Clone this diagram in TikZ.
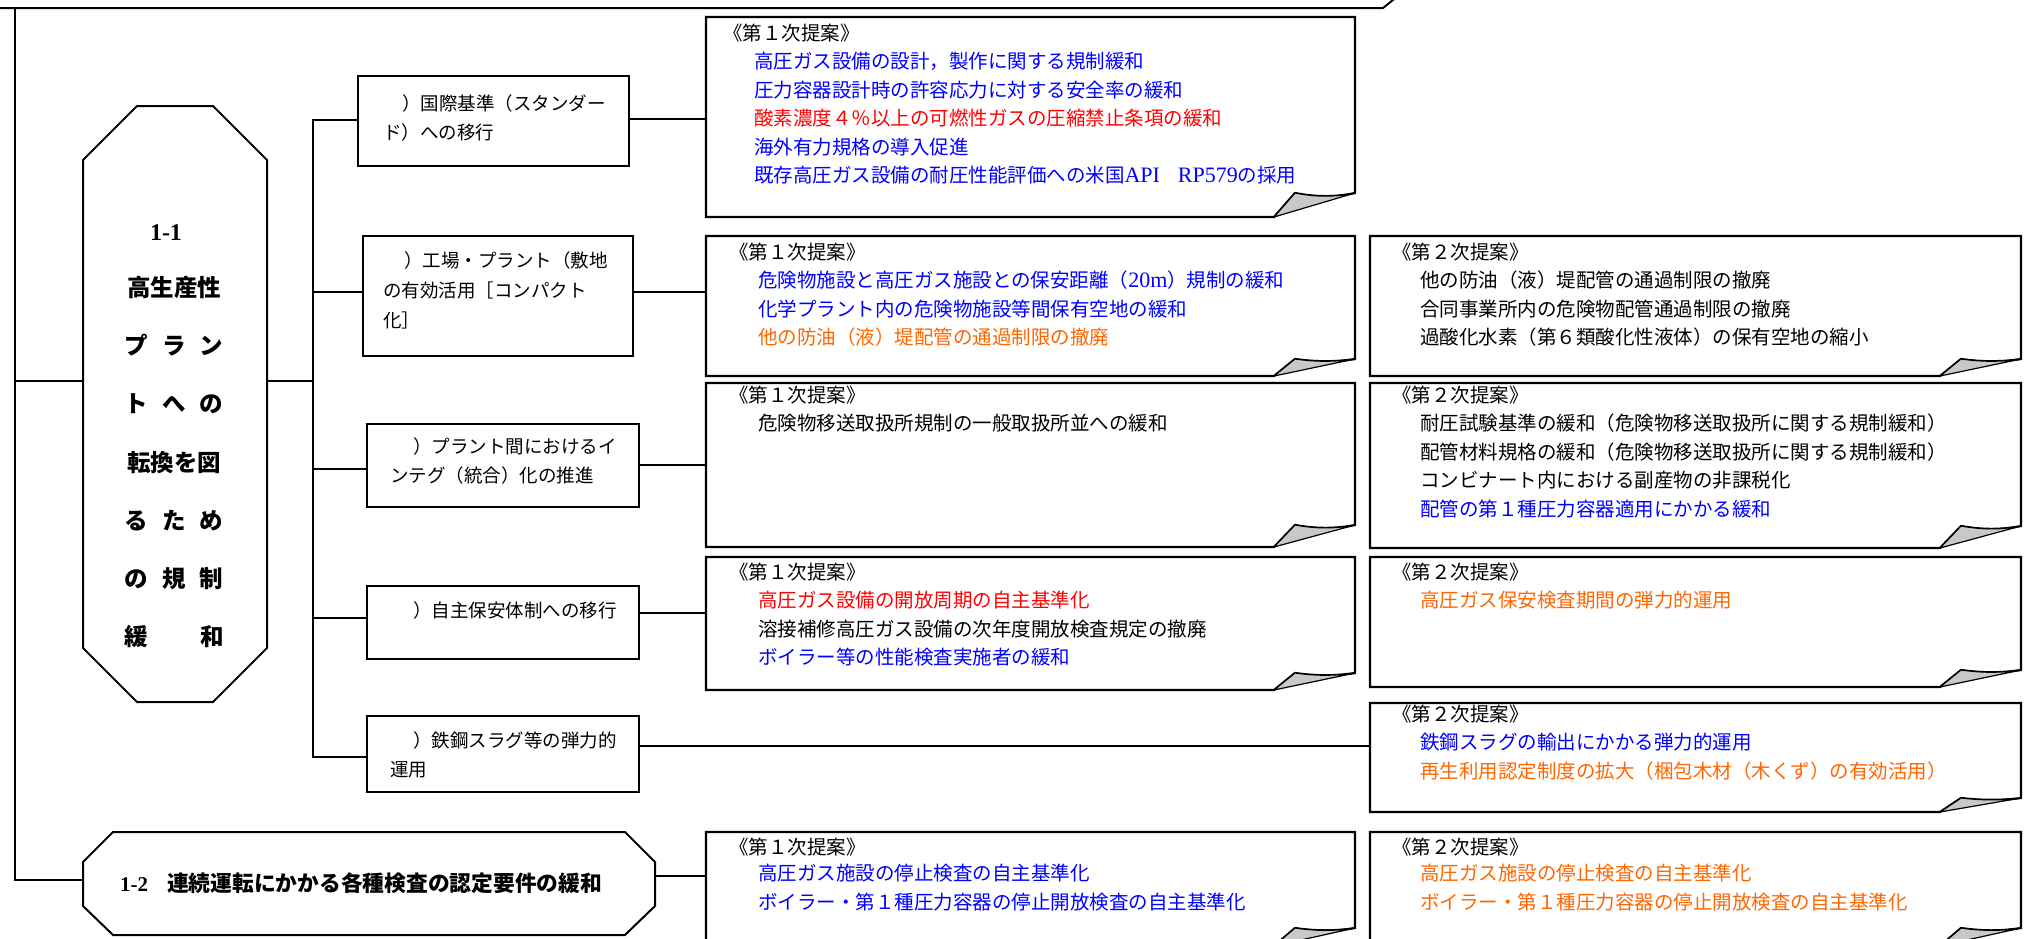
\documentclass[tikz,border=0pt]{standalone}
\usepackage{fontspec}
\setmainfont{Noto Sans CJK JP}
\newfontfamily\serif{Liberation Serif}
\definecolor{jblue}{RGB}{0,0,255}
\definecolor{jred}{RGB}{255,0,0}
\definecolor{jorange}{RGB}{255,102,0}
\definecolor{foldgray}{RGB}{200,200,200}
\tikzset{
  conn/.style={draw=black, line width=2pt, line cap=rect},
  octo/.style={draw=black, line width=2pt, line join=miter},
  area/.style={inner sep=0pt, outer sep=0pt, anchor=north west},
  brbox/.style={draw=black, line width=2.2pt, inner sep=0pt, outer sep=0pt, anchor=north west},
  pagebox/.style={draw=black, line width=2.2pt, fill=white, line join=miter},
  fold/.style={draw=black, line width=1.2pt, fill=foldgray, line join=round},
  ptxt/.style={anchor=base west, inner sep=0pt, outer sep=0pt, font=\fontsize{19.5}{19.5}\selectfont},
  btxt/.style={anchor=base west, inner sep=0pt, outer sep=0pt, font=\fontsize{18.5}{18.5}\selectfont},
  otxt/.style={anchor=base, inner sep=0pt, outer sep=0pt, font=\fontsize{23.5}{23.5}\selectfont\bfseries}
}
\newcommand\propbox[6]{%
  \node[area, minimum width={(#4-#2)*1pt}, minimum height={(#5-#3)*1pt}] (#1) at (#2,#3) {};
  \draw[pagebox] (#2,#3) -- (#4,#3) -- (#4,{#5-#6})
     .. controls ({#4-25},{#5-#6+0.22*#6}) and ({#4-45},{#5-#6+0.12*#6}) .. ({#4-60},{#5-#6})
     -- ({#4-81},#5) -- (#2,#5) -- cycle;
  \draw[fold] ({#4-81},#5) -- ({#4-60},{#5-#6})
     .. controls ({#4-45},{#5-#6+0.12*#6}) and ({#4-25},{#5-#6+0.22*#6}) .. (#4,{#5-#6}) -- cycle;
}
\newcommand\lt[1]{{\serif\fontsize{22}{22}\selectfont #1}}
\begin{document}
\begin{tikzpicture}[x=1pt,y=-1pt]
\useasboundingbox (0,0) rectangle (2032,938);
\fill[white] (0,0) rectangle (2032,938);

% named coordinates
\coordinate (trunkTop) at (15,8);
\coordinate (trunkBot) at (15,880);
\coordinate (busTop) at (313,120);
\coordinate (busBot) at (313,757);
\coordinate (yO) at (0,381);
\coordinate (yAl) at (0,120);
\coordinate (yAr) at (0,119);
\coordinate (yBl) at (0,292);
\coordinate (yBr) at (0,292);
\coordinate (yCl) at (0,469);
\coordinate (yCr) at (0,465);
\coordinate (yDl) at (0,618);
\coordinate (yDr) at (0,613);
\coordinate (yEl) at (0,757);
\coordinate (yEr) at (0,746);
\coordinate (yF) at (0,876);
\coordinate (topA) at (-3,8);
\coordinate (topB) at (1383,8);
\coordinate (topC) at (1398,-4);

% top frame line
\draw[conn] (topA) -- (topB) -- (topC);

% octagon 1-1
\node[area, minimum width=184pt, minimum height=596pt] (O1) at (83,106) {};
\draw[octo] (83,160) -- (137,106) -- (213,106) -- (267,160) -- (267,648) -- (213,702) -- (137,702) -- (83,648) -- cycle;
% octagon 1-2
\node[area, minimum width=572pt, minimum height=103pt] (O2) at (83,832) {};
\draw[octo] (83,862) -- (113,832) -- (625,832) -- (655,862) -- (655,906) -- (625,935) -- (113,935) -- (83,906) -- cycle;

% branch boxes
\node[brbox, minimum width=271pt, minimum height=90pt] (A) at (358,76) {};
\node[brbox, minimum width=270pt, minimum height=120pt] (B) at (363,236) {};
\node[brbox, minimum width=272pt, minimum height=83pt] (C) at (367,424) {};
\node[brbox, minimum width=272pt, minimum height=73pt] (D) at (367,586) {};
\node[brbox, minimum width=272pt, minimum height=76pt] (E) at (367,716) {};

% connectors (left side)
\draw[conn] (trunkTop) -- (trunkBot);
\draw[conn] (trunkTop |- yO) -- (O1.west |- yO);
\draw[conn] (O1.east |- yO) -- (busTop |- yO);
\draw[conn] (busTop) -- (busBot);
\draw[conn] (busTop |- yAl) -- (A.west |- yAl);
\draw[conn] (busTop |- yBl) -- (B.west |- yBl);
\draw[conn] (busTop |- yCl) -- (C.west |- yCl);
\draw[conn] (busTop |- yDl) -- (D.west |- yDl);
\draw[conn] (busTop |- yEl) -- (E.west |- yEl);
\draw[conn] (trunkBot) -- (O2.west |- trunkBot);

% proposal boxes
\propbox{A1}{706}{17}{1355}{217}{24}
\propbox{B1}{706}{236}{1355}{376}{17}
\propbox{B2}{1370}{236}{2021}{376}{17}
\propbox{C1}{706}{383}{1355}{547}{22}
\propbox{C2}{1370}{383}{2021}{548}{22}
\propbox{D1}{706}{557}{1355}{690}{17}
\propbox{D2}{1370}{557}{2021}{687}{17}
\propbox{E2}{1370}{703}{2021}{812}{14}
\propbox{F1}{706}{832}{1355}{946}{18}
\propbox{F2}{1370}{832}{2021}{946}{18}

% connectors (right side)
\draw[conn] (A.east |- yAr) -- (A1.west |- yAr);
\draw[conn] (B.east |- yBr) -- (B1.west |- yBr);
\draw[conn] (C.east |- yCr) -- (C1.west |- yCr);
\draw[conn] (D.east |- yDr) -- (D1.west |- yDr);
\draw[conn] (E.east |- yEr) -- (E2.west |- yEr);
\draw[conn] (O2.east |- yF) -- (F1.west |- yF);

% octagon 1-1 text
\node[otxt, font=\fontsize{24}{24}\selectfont\serif\bfseries] (o1a) at (166,240) {1-1};
\node[otxt] (o1b) at (174,296.5) {高生産性};
\node[otxt] (o1c) at (174,354.7) {プ\hspace{14pt}ラ\hspace{14pt}ン};
\node[otxt] (o1d) at (174,412.8) {ト\hspace{14pt}へ\hspace{14pt}の};
\node[otxt] (o1e) at (174,471) {転換を図};
\node[otxt] (o1f) at (174,529.2) {る\hspace{14pt}た\hspace{14pt}め};
\node[otxt] (o1g) at (174,587.3) {の\hspace{14pt}規\hspace{14pt}制};
\node[otxt] (o1h) at (174,645.5) {緩\hspace{53pt}和};

% octagon 1-2 text
\node[anchor=base west, inner sep=0pt, font=\fontsize{21}{21}\selectfont\serif\bfseries] (o2a) at (120,891) {1-2};
\node[anchor=base west, inner sep=0pt, font=\fontsize{21.75}{21.75}\selectfont\bfseries] (o2b) at (167,891) {連続運転にかかる各種検査の認定要件の緩和};

% branch box texts
\node[btxt] (tA1) at (383,110) {\hspace{19pt}）国際基準（スタンダー};
\node[btxt] (tA2) at (383,139) {ド）への移行};
\node[btxt] (tB1) at (383,267) {\hspace{21pt}）工場・プラント（敷地};
\node[btxt] (tB2) at (383,297) {の有効活用［コンパクト};
\node[btxt] (tB3) at (383,327) {化］};
\node[btxt] (tC1) at (390,453) {\hspace{23pt}）プラント間におけるイ};
\node[btxt] (tC2) at (390,482) {ンテグ（統合）化の推進};
\node[btxt] (tD1) at (390,617) {\hspace{23pt}）自主保安体制への移行};
\node[btxt] (tE1) at (390,747) {\hspace{23pt}）鉄鋼スラグ等の弾力的};
\node[btxt] (tE2) at (390,776) {運用};

% A1
\node[ptxt] (a1h) at (723,40) {《第１次提案》};
\node[ptxt, text=jblue] (a1a) at (754,68.5) {高圧ガス設備の設計，製作に関する規制緩和};
\node[ptxt, text=jblue] (a1b) at (754,97) {圧力容器設計時の許容応力に対する安全率の緩和};
\node[ptxt, text=jred] (a1c) at (754,125.5) {酸素濃度４％以上の可燃性ガスの圧縮禁止条項の緩和};
\node[ptxt, text=jblue] (a1d) at (754,154) {海外有力規格の導入促進};
\node[ptxt, text=jblue] (a1e) at (754,182.5) {既存高圧ガス設備の耐圧性能評価への米国\lt{API}\hspace{18pt}\lt{RP579}の採用};

% B1
\node[ptxt] (b1h) at (729,259) {《第１次提案》};
\node[ptxt, text=jblue] (b1a) at (758,287.5) {危険物施設と高圧ガス施設との保安距離（\lt{20m}）規制の緩和};
\node[ptxt, text=jblue] (b1b) at (758,316) {化学プラント内の危険物施設等間保有空地の緩和};
\node[ptxt, text=jorange] (b1c) at (758,344.5) {他の防油（液）堤配管の通過制限の撤廃};
% B2
\node[ptxt] (b2h) at (1392,259) {《第２次提案》};
\node[ptxt] (b2a) at (1420,287.5) {他の防油（液）堤配管の通過制限の撤廃};
\node[ptxt] (b2b) at (1420,316) {合同事業所内の危険物配管通過制限の撤廃};
\node[ptxt] (b2c) at (1420,344.5) {過酸化水素（第６類酸化性液体）の保有空地の縮小};

% C1
\node[ptxt] (c1h) at (729,402) {《第１次提案》};
\node[ptxt] (c1a) at (758,430.5) {危険物移送取扱所規制の一般取扱所並への緩和};
% C2
\node[ptxt] (c2h) at (1392,402) {《第２次提案》};
\node[ptxt] (c2a) at (1420,430.5) {耐圧試験基準の緩和（危険物移送取扱所に関する規制緩和）};
\node[ptxt] (c2b) at (1420,459) {配管材料規格の緩和（危険物移送取扱所に関する規制緩和）};
\node[ptxt] (c2c) at (1420,487.5) {コンビナート内における副産物の非課税化};
\node[ptxt, text=jblue] (c2d) at (1420,516) {配管の第１種圧力容器適用にかかる緩和};

% D1
\node[ptxt] (d1h) at (729,579) {《第１次提案》};
\node[ptxt, text=jred] (d1a) at (758,607.5) {高圧ガス設備の開放周期の自主基準化};
\node[ptxt] (d1b) at (758,636) {溶接補修高圧ガス設備の次年度開放検査規定の撤廃};
\node[ptxt, text=jblue] (d1c) at (758,664.5) {ボイラー等の性能検査実施者の緩和};
% D2
\node[ptxt] (d2h) at (1392,579) {《第２次提案》};
\node[ptxt, text=jorange] (d2a) at (1420,607.5) {高圧ガス保安検査期間の弾力的運用};

% E2
\node[ptxt] (e2h) at (1392,721) {《第２次提案》};
\node[ptxt, text=jblue] (e2a) at (1420,749.5) {鉄鋼スラグの輸出にかかる弾力的運用};
\node[ptxt, text=jorange] (e2b) at (1420,778) {再生利用認定制度の拡大（梱包木材（木くず）の有効活用）};

% F1
\node[ptxt] (f1h) at (729,854) {《第１次提案》};
\node[ptxt, text=jblue] (f1a) at (758,880.5) {高圧ガス施設の停止検査の自主基準化};
\node[ptxt, text=jblue] (f1b) at (758,909) {ボイラー・第１種圧力容器の停止開放検査の自主基準化};
% F2
\node[ptxt] (f2h) at (1392,854) {《第２次提案》};
\node[ptxt, text=jorange] (f2a) at (1420,880.5) {高圧ガス施設の停止検査の自主基準化};
\node[ptxt, text=jorange] (f2b) at (1420,909) {ボイラー・第１種圧力容器の停止開放検査の自主基準化};
\end{tikzpicture}
\end{document}
